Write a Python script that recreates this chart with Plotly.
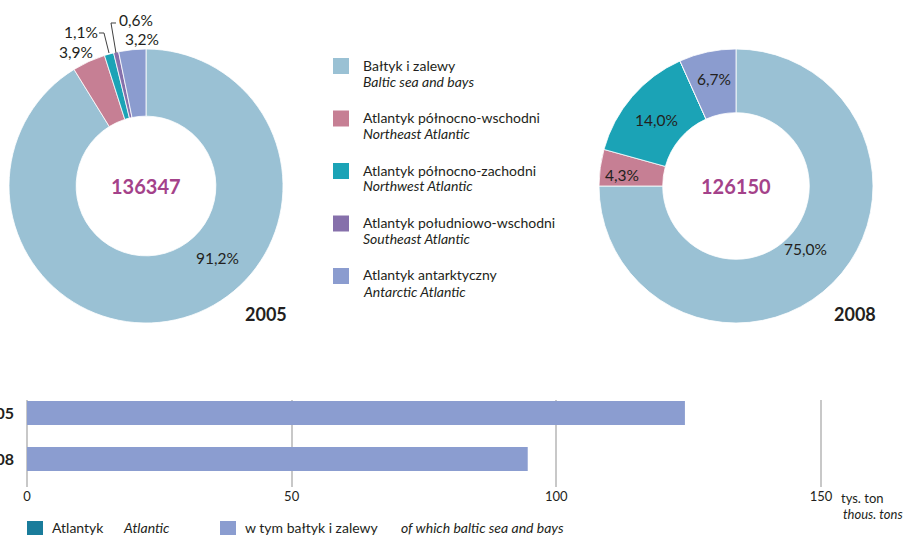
import plotly.graph_objects as go

# ---- data ----
regions_pl = ["Bałtyk i zalewy", "Atlantyk północno-wschodni", "Atlantyk północno-zachodni",
              "Atlantyk południowo-wschodni", "Atlantyk antarktyczny"]
regions_en = ["Baltic sea and bays", "Northeast Atlantic", "Northwest Atlantic",
              "Southeast Atlantic", "Antarctic Atlantic"]
share_2005 = [91.2, 3.9, 1.1, 0.6, 3.2]
share_2008 = [75.0, 4.3, 14.0, 0.0, 6.7]
total_2005 = 136347
total_2008 = 126150

bar_years = ["2005", "2008"]
baltic_catch = [124.3, 94.6]   # thousand tonnes
x_ticks = [0, 50, 100, 150]

# ---- styling ----
W, H = 906, 535
FONT = "Lato"
TXT = "#231f20"
colors = ["#9ac1d4", "#c67f94", "#1ba3b6", "#8670ab", "#8b9ccf"]
BAR_COLOR = "#8b9dd0"
ATL_COLOR = "#1a7c9b"
CENTER_COLOR = "#a4428a"

# bar axis: 0 at x=27 px, 5.293 px per thousand tonnes
X0_PX, PX_PER_UNIT = 27, 5.293
X_MAX = 150.4


def px(x, y):
    """pixel position -> paper coordinates"""
    return x / W, 1 - y / H


def pct(v):
    return f"{v:.1f}".replace(".", ",") + "%"


def pie_domain(cx, cy, r):
    return dict(x=[(cx - r) / W, (cx + r) / W], y=[1 - (cy + r) / H, 1 - (cy - r) / H])


fig = go.Figure()

fig.add_trace(go.Pie(
    values=share_2005, labels=regions_pl, sort=False, direction="clockwise", rotation=0,
    hole=0.51, domain=pie_domain(146, 186, 137), textinfo="none", showlegend=False,
    marker=dict(colors=colors, line=dict(color="white", width=0.8)), hoverinfo="label+percent",
))
fig.add_trace(go.Pie(
    values=share_2008, labels=regions_pl, sort=False, direction="clockwise", rotation=0,
    hole=0.535, domain=pie_domain(736, 186, 137), textinfo="none", showlegend=False,
    marker=dict(colors=colors, line=dict(color="white", width=0.8)), hoverinfo="label+percent",
))

# bar chart: of which Baltic sea and bays
fig.add_trace(go.Bar(
    y=bar_years, x=baltic_catch, orientation="h", marker=dict(color=BAR_COLOR, line=dict(width=0)),
    width=0.52, showlegend=False, xaxis="x", yaxis="y",
))

ann = []
shapes = []


def add_text(x, y, text, size, color=TXT, xanchor="center", bold=False, italic=False):
    xx, yy = px(x, y)
    ann.append(dict(x=xx, y=yy, xref="paper", yref="paper", text=text, showarrow=False,
                    xanchor=xanchor, yanchor="middle",
                    font=dict(family=FONT, size=size, color=color,
                              weight="bold" if bold else "normal",
                              style="italic" if italic else "normal")))


# centre totals and years
add_text(146, 186, str(total_2005), 20, CENTER_COLOR, bold=True)
add_text(736, 186, str(total_2008), 20, CENTER_COLOR, bold=True)
add_text(266, 314, "2005", 18, bold=True)
add_text(855, 314, "2008", 18, bold=True)

# percentage labels 2005
add_text(217, 258, pct(share_2005[0]), 15.5)
add_text(76, 52, pct(share_2005[1]), 15.5)
add_text(81, 32, pct(share_2005[2]), 15.5)
add_text(136, 20, pct(share_2005[3]), 15.5)
add_text(142, 39, pct(share_2005[4]), 15.5)

# leader lines for the thin slices
for pts in ([(99, 33), (104, 33), (109, 53)], [(116, 23), (111, 23), (116, 53)]):
    path = "M " + " L ".join(f"{px(x, y)[0]:.5f},{px(x, y)[1]:.5f}" for x, y in pts)
    shapes.append(dict(type="path", path=path, xref="paper", yref="paper",
                       line=dict(color="#404040", width=1)))

# percentage labels 2008
add_text(805, 249, pct(share_2008[0]), 15.5)
add_text(622, 175, pct(share_2008[1]), 15.5)
add_text(656, 120, pct(share_2008[2]), 15.5)
add_text(714, 79, pct(share_2008[4]), 15.5)

# legend for the ring charts
for i, (pl, en) in enumerate(zip(regions_pl, regions_en)):
    y0 = 58 + i * 52.5
    x0, x1 = 333, 349
    a, b = px(x0, y0), px(x1, y0 + 16)
    shapes.append(dict(type="rect", xref="paper", yref="paper", x0=a[0], x1=b[0], y0=b[1], y1=a[1],
                       fillcolor=colors[i], line=dict(width=0)))
    add_text(361, y0 + 7, pl, 14, xanchor="left")
    add_text(361, y0 + 23, en, 14, xanchor="left", italic=True)

# unit labels of the bar chart
add_text(839, 498, "tys. ton", 13, xanchor="left")
add_text(905, 514, "thous. tons", 13, xanchor="right", italic=True)

# legend for the bar chart
for x0, col, pl, en, xen in ((27, ATL_COLOR, "Atlantyk", "Atlantic", 121),
                             (220, BAR_COLOR, "w tym bałtyk i zalewy", "of which baltic sea and bays", 399)):
    a, b = px(x0, 521), px(x0 + 16, 537)
    shapes.append(dict(type="rect", xref="paper", yref="paper", x0=a[0], x1=b[0], y0=b[1], y1=a[1],
                       fillcolor=col, line=dict(width=0)))
    add_text(x0 + 23, 527, pl, 14, xanchor="left")
    add_text(xen, 527, en, 14, xanchor="left", italic=True)

fig.update_layout(
    width=W, height=H, margin=dict(l=0, r=0, t=0, b=0, autoexpand=False),
    paper_bgcolor="white", plot_bgcolor="white",
    font=dict(family=FONT, color=TXT),
    annotations=ann, shapes=shapes,
    xaxis=dict(domain=[X0_PX / W, (X0_PX + X_MAX * PX_PER_UNIT) / W], range=[0, X_MAX],
               tickvals=x_ticks, automargin=False,
               showgrid=True, gridcolor="#c8c8c8", gridwidth=1.5,
               zeroline=True, zerolinecolor="#c8c8c8", zerolinewidth=1.5,
               showline=False, ticks="", tickfont=dict(family=FONT, size=13, color=TXT),
               anchor="y", fixedrange=True),
    yaxis=dict(domain=[1 - 487 / H, 1 - 400 / H], type="category", range=[1.609, -0.283],
               showgrid=False, zeroline=False, showline=False, ticks="", automargin=False,
               ticklabelstandoff=12,
               tickfont=dict(family=FONT, size=16, color=TXT, weight="bold"),
               anchor="x", fixedrange=True),
    bargap=0.48,
)

fig.write_html("out.html")
